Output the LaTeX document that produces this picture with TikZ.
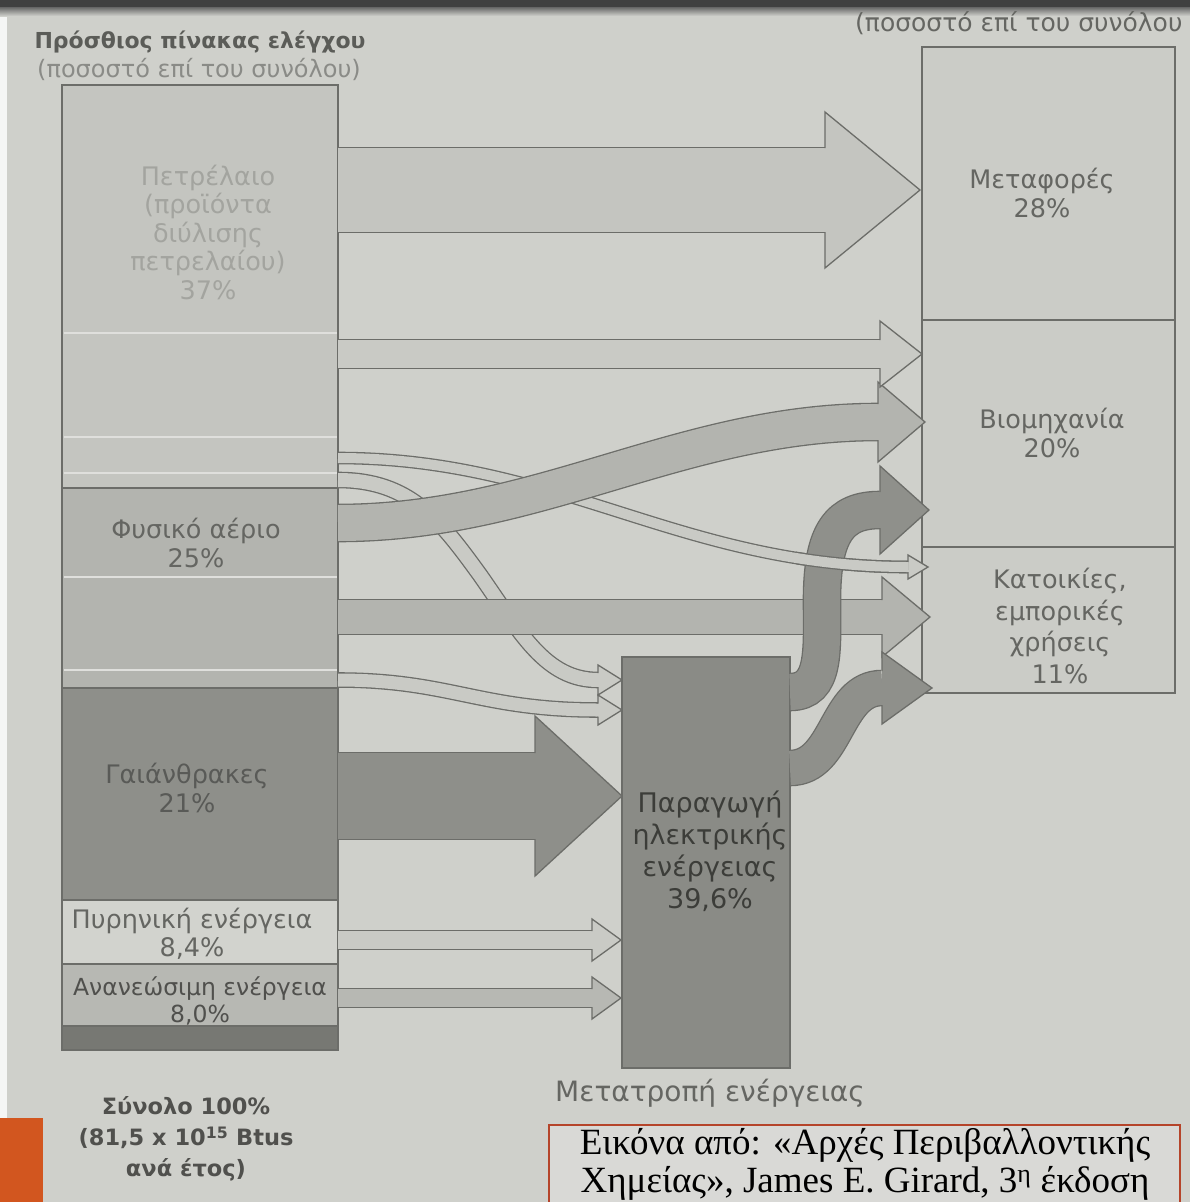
\documentclass[tikz,border=0pt]{standalone}
\usepackage{fontspec}
\setmainfont{DejaVu Sans}
\newfontfamily\capfont{Liberation Serif}
\usepackage{xcolor}
\usepackage{tikz}
\definecolor{paper}{HTML}{CFD0CB}
\definecolor{edgegray}{HTML}{6C6D69}
\definecolor{oilgray}{HTML}{C4C5C0}
\definecolor{gasgray}{HTML}{B3B4AF}
\definecolor{coalgray}{HTML}{8E8F8A}
\definecolor{nucgray}{HTML}{D2D3CE}
\definecolor{rengray}{HTML}{B7B8B3}
\definecolor{basegray}{HTML}{777873}
\definecolor{usegray}{HTML}{CBCCC7}
\definecolor{elecgray}{HTML}{8A8B86}
\definecolor{thingray}{HTML}{C9CAC5}
\definecolor{darkflow}{HTML}{8F908B}
\definecolor{txtlight}{HTML}{A3A49F}
\definecolor{txtmid}{HTML}{656662}
\definecolor{txtdark}{HTML}{3C3D39}
\definecolor{capred}{HTML}{B5442A}
\definecolor{capfill}{HTML}{D9D9D6}
\definecolor{deco}{HTML}{D2561F}
\tikzset{colbox/.style = {draw=edgegray, line width=1.3pt}}
\tikzset{edge/.style = {draw=edgegray, line width=1.3pt, line join=miter}}
\tikzset{lbl/.style = {align=center, inner sep=0pt, text=txtmid, font=\fontsize{25.5}{28.5}\selectfont}}
\newcommand{\flowbody}[3]{%
  \draw[line width=#2+2.6pt, edgegray] #3;
  \draw[line width=#2, #1] #3;}
\newcommand{\flowhead}[6]{%
  \fill[#1] (#2,{#4-#6}) -- (#3,#4) -- (#2,{#4+#6}) -- cycle;
  \draw[edge] (#2,{#4-#5}) -- (#2,{#4-#6}) -- (#3,#4) -- (#2,{#4+#6}) -- (#2,{#4+#5});}
\newcommand{\respath}{(338,458) .. controls (560,458) and (680,567) .. (908,567)}

\begin{document}
\begin{tikzpicture}[x=1pt, y=-1pt]
    \useasboundingbox (0,0) rectangle (1190,1202);
    \begin{scope}
    \clip (0,0) rectangle (1190,1202);
    \fill[paper] (0,0) rectangle (1190,1202);
    \fill[white!80!paper] (0,0) rectangle (7,1202);
    \fill[black!75] (0,0) rectangle (1190,7);
    \shade[top color=black!60, bottom color=paper] (0,7) rectangle (1190,16);
    \fill[deco] (0,1118) rectangle (43,1202);

    % primary sources
    \filldraw[colbox, fill=oilgray] (62,85) rectangle (338,488);
    \filldraw[colbox, fill=gasgray] (62,488) rectangle (338,688);
    \filldraw[colbox, fill=coalgray] (62,688) rectangle (338,900);
    \filldraw[colbox, fill=nucgray] (62,900) rectangle (338,964);
    \filldraw[colbox, fill=rengray] (62,964) rectangle (338,1026);
    \filldraw[colbox, fill=basegray] (62,1026) rectangle (338,1050);
    \foreach \y in {333,437,473,577,670}
        \draw[white!45!oilgray, line width=2pt] (63.5,\y) -- (336.5,\y);

    % end uses
    \filldraw[colbox, fill=usegray] (922,47) rectangle (1175,320);
    \filldraw[colbox, fill=usegray] (922,320) rectangle (1175,547);
    \filldraw[colbox, fill=usegray] (922,547) rectangle (1175,693);

    % thin flows
    \flowbody{thingray}{14pt}{(338,480) .. controls (410,480) and (440,520) .. (480,575) .. controls (520,632) and (545,680) .. (598,680)}
    \flowhead{thingray}{598}{622}{680}{7}{15}
    \flowbody{thingray}{13pt}{(338,680) .. controls (450,680) and (480,710) .. (598,710)}
    \flowhead{thingray}{598}{622}{710}{6.5}{15}
    \flowbody{thingray}{10pt}{\respath}
    \flowhead{thingray}{908}{928}{567}{5}{12}

    % gas to industry
    \flowbody{gasgray}{36pt}{(338,523) .. controls (540,523) and (680,422) .. (878,422)}
    \flowhead{gasgray}{878}{925}{422}{18}{40}

    % straight flows
    \flowbody{oilgray}{84pt}{(338,190) -- (825,190)}
    \flowhead{oilgray}{825}{920}{190}{42}{78}
    \flowbody{thingray}{28pt}{(338,354) -- (880,354)}
    \flowhead{thingray}{880}{922}{354}{14}{33}
    \flowbody{gasgray}{34pt}{(338,617) -- (882,617)}
    \flowhead{gasgray}{882}{930}{617}{17}{40}
    \flowbody{coalgray}{86pt}{(338,796) -- (535,796)}
    \flowhead{coalgray}{535}{622}{796}{43}{80}
    \flowbody{thingray}{18pt}{(338,940) -- (592,940)}
    \flowhead{thingray}{592}{621}{940}{9}{21}
    \flowbody{rengray}{18pt}{(338,998) -- (592,998)}
    \flowhead{rengray}{592}{621}{998}{9}{21}

    % conversion
    \filldraw[colbox, fill=elecgray] (622,657) rectangle (790,1068);
    \flowbody{darkflow}{36pt}{(790,692) .. controls (826,692) and (822,650) .. (822,600) .. controls (822,532) and (840,510) .. (880,510)}
    \flowhead{darkflow}{880}{929}{510}{18}{44}
    \flowbody{darkflow}{34pt}{(790,768) .. controls (838,768) and (835,688) .. (882,688)}
    \flowhead{darkflow}{882}{932}{688}{17}{36}
    \begin{scope}
        \clip (796,540) rectangle (908,595);
        \flowbody{thingray}{10pt}{\respath}
    \end{scope}

    % labels
    \node[lbl, text=txtlight] (oillbl) at (208,232) {Πετρέλαιο\\(προϊόντα\\διύλισης\\πετρελαίου)\\37\%};
    \node[lbl] (gaslbl) at (196,543) {Φυσικό αέριο\\25\%};
    \node[lbl, text=txtdark!85] (coallbl) at (187,788) {Γαιάνθρακες\\21\%};
    \node[lbl] (nuclbl) at (192,934) {Πυρηνική ενέργεια\\8,4\%};
    \node[lbl, text=txtdark!90, font=\fontsize{23.5}{27}\selectfont] (renlbl) at (200,1001) {Ανανεώσιμη ενέργεια\\8,0\%};
    \node[lbl] (translbl) at (1042,193) {Μεταφορές\\28\%};
    \node[lbl] (indlbl) at (1052,433) {Βιομηχανία\\20\%};
    \node[lbl, font=\fontsize{25.5}{31.5}\selectfont] (reslbl) at (1060,626) {Κατοικίες,\\εμπορικές\\χρήσεις\\11\%};
    \node[lbl, text=txtdark, font=\fontsize{27}{32}\selectfont] (eleclbl) at (710,851) {Παραγωγή\\ηλεκτρικής\\ενέργειας\\39,6\%};
    \node[lbl, font=\fontsize{28}{32}\selectfont] (convlbl) at (710,1093) {Μετατροπή ενέργειας};
    \node[lbl, text=txtmid!90!black, font=\bfseries\fontsize{22}{26}\selectfont] (lefthead) at (200,42) {Πρόσθιος πίνακας ελέγχου};
    \node[lbl, text=txtlight!85!black, font=\fontsize{24}{26}\selectfont] (leftsub) at (199,69) {(ποσοστό επί του συνόλου)};
    \node[lbl, anchor=west, font=\fontsize{25}{26}\selectfont] (rightsub) at (855,23) {(ποσοστό επί του συνόλου};
    \node[lbl, text=txtdark!90, font=\bfseries\fontsize{22.5}{31}\selectfont] (totallbl) at (186,1139) {Σύνολο 100\%\\(81,5 x 10\textsuperscript{15} Btus\\ανά έτος)};

    % source note
    \filldraw[draw=capred, line width=2pt, fill=capfill] (549,1125) rectangle (1180,1214);
    \node[anchor=base, inner sep=0pt, font=\capfont\fontsize{37}{40}\selectfont] (caption) at (865,1154) {Εικόνα από: «Αρχές Περιβαλλοντικής};
    \node[anchor=base, inner sep=0pt, font=\capfont\fontsize{37}{40}\selectfont] (captionb) at (865,1192) {Χημείας», James E. Girard, 3\textsuperscript{η} έκδοση};
    \end{scope}
\end{tikzpicture}
\end{document}
